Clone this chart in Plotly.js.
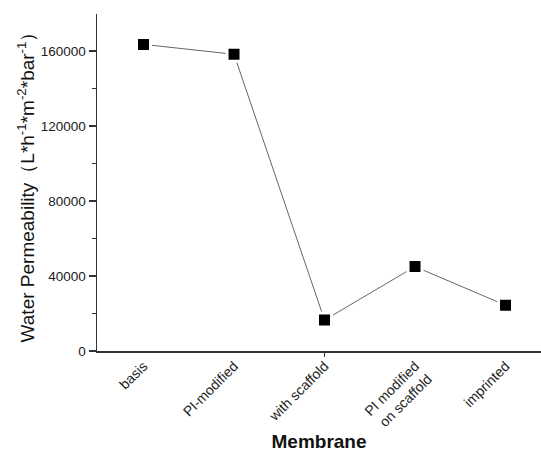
<!DOCTYPE html>
<html>
<head>
<meta charset="utf-8">
<script src="https://cdn.plot.ly/plotly-3.0.1.min.js"></script>
<style>html,body{margin:0;padding:0;background:#fff;}#chart{width:541px;height:452px;}</style>
</head>
<body>
<div id="chart"></div>
<script>
const categories = ["basis", "PI-modified", "with scaffold", "PI modified<br>on scaffold", "imprinted"];
const positions = [0, 1, 2, 3, 4];
const permeability = [163500, 158200, 16500, 45000, 24400];
const yTickVals = [0, 40000, 80000, 120000, 160000];

const font = "Liberation Sans, Arial, sans-serif";

const traces = [
  {
    x: positions, y: permeability, type: "scatter", mode: "lines",
    line: {color: "#6b6270", width: 1}, hoverinfo: "skip", showlegend: false
  },
  {
    x: positions, y: permeability, type: "scatter", mode: "markers",
    marker: {symbol: "square", size: 14, color: "#000", line: {color: "#fff", width: 3}},
    showlegend: false
  }
];

const layout = {
  width: 541, height: 452,
  margin: {l: 97, r: 0, t: 14, b: 101},
  paper_bgcolor: "#fff", plot_bgcolor: "#fff",
  font: {family: font, color: "#222"},
  showlegend: false,
  xaxis: {
    range: [-0.514, 4.392],
    tickvals: positions, ticktext: categories,
    tickangle: -45,
    tickfont: {size: 14, family: font, color: "#222"},
    ticks: "", showgrid: false, zeroline: false,
    showline: true, linecolor: "#333", linewidth: 1.5,
    minor: {tickvals: [2], ticks: "outside", ticklen: 4, tickcolor: "#333", tickwidth: 1.2, showgrid: false},
    title: {text: "<b>Membrane</b>", font: {size: 19, family: font, color: "#111"}, standoff: 8}
  },
  yaxis: {
    range: [0, 179700],
    tickvals: yTickVals, tickformat: "d",
    tickfont: {size: 13.5, family: font, color: "#222"},
    ticks: "outside", ticklen: 7, tickwidth: 1.2, tickcolor: "#333",
    showgrid: false, zeroline: false,
    showline: true, linecolor: "#333", linewidth: 1.5,
    minor: {dtick: 20000, ticks: "outside", ticklen: 4, tickcolor: "#333", tickwidth: 1.2, showgrid: false},
    title: {text: "Water Permeability（L*h<sup>-1</sup>*m<sup>-2</sup>*bar<sup>-1</sup>）", font: {size: 19, family: font, color: "#111"}, standoff: 1}
  }
};

Plotly.newPlot("chart", traces, layout, {displayModeBar: false, staticPlot: true});
</script>
</body>
</html>
